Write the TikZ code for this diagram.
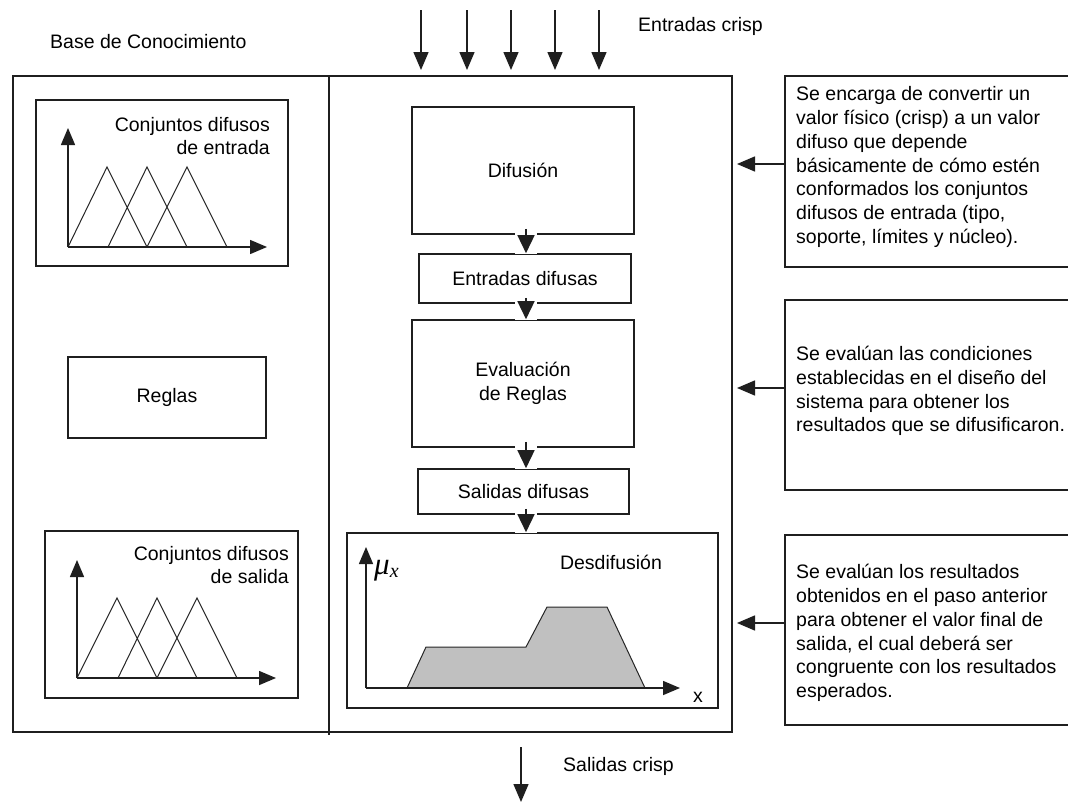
\documentclass[tikz,border=0pt]{standalone}
\usepackage{fontspec}
\setmainfont{Liberation Sans}
\newfontfamily\muserif{Liberation Serif}
\usetikzlibrary{arrows.meta,calc}
\newcommand\mytxt{\fontsize{19.5}{23.8}\selectfont}
\begin{document}
\begin{tikzpicture}[x=1pt,y=-1pt,
  ln/.style={line width=1.6pt, draw=black!88},
  box/.style={ln, rectangle, inner sep=0pt, font=\mytxt, align=center},
  arr/.style={line width=1.5pt, draw=black!88, -{Triangle[width=15pt,length=18pt]}},
  iarr/.style={line width=1.5pt, draw=black!88, -{Triangle[width=17pt,length=18pt]}},
  axis/.style={line width=1.5pt, draw=black!88, -{Triangle[width=14pt,length=17pt]}},
  tri/.style={line width=1pt, draw=black!85},
  lbl/.style={font=\mytxt, inner sep=0pt},
]
\path[use as bounding box, fill=white] (0,0) rectangle (1068,803);
\clip (0,0) rectangle (1068,803);

% outer frame and divider
\node[box, minimum width=719pt, minimum height=656pt] (outer) at (372.5,404) {};
\coordinate (divtop) at (329,76);
\coordinate (divbot) at (329,735);
\draw[ln] (divtop) -- (divbot);

\node[lbl, anchor=west] (kb) at (50,42) {Base de Conocimiento};
\node[lbl, anchor=west] (inl) at (638,26) {Entradas crisp};
\node[lbl, anchor=west] (outl) at (563,766) {Salidas crisp};

% input arrows
\foreach \i/\x in {1/421,2/467,3/511,4/555,5/599}{
  \coordinate (i\i s) at (\x,10);
  \coordinate (i\i e) at (\x,70);
  \draw[arr] (i\i s) -- (i\i e);
}
% output arrow
\coordinate (os) at (521,747);
\coordinate (oe) at (521,802);
\draw[arr] (os) -- (oe);

% left column
\node[box, minimum width=252pt, minimum height=166pt] (cin) at (162,183) {};
\node[lbl, anchor=east, align=right] (cinl) at (270,136) {Conjuntos difusos\\de entrada};
\coordinate (cino) at (68,247);
\draw[tri] (68,247) -- (107,167) -- (147,247) (108,247) -- (147,167) -- (187,247) (147,247) -- (187,167) -- (227,247);
\draw[axis] (cino) -- (68,128);
\draw[axis] (cino) -- (267,247);

\node[box, minimum width=198pt, minimum height=81pt] (reg) at (167,397.5) {Reglas};

\node[box, minimum width=253pt, minimum height=167pt] (cout) at (171.5,614.5) {};
\node[lbl, anchor=east, align=right] (coutl) at (289,565) {Conjuntos difusos\\de salida};
\coordinate (couto) at (77,678);
\draw[tri] (77,678) -- (117,598) -- (157,678) (118,678) -- (157,598) -- (197,678) (157,678) -- (197,598) -- (237,678);
\draw[axis] (couto) -- (77,560);
\draw[axis] (couto) -- (276,678);

% middle chain
\node[box, minimum width=222pt, minimum height=127pt] (dif) at (523,170.5) {Difusión};
\node[box, minimum width=212pt, minimum height=49pt] (ed) at (525,278.5) {Entradas difusas};
\node[box, minimum width=222pt, minimum height=127pt] (ev) at (523,383.5) {Evaluación\\de Reglas};
\node[box, minimum width=211pt, minimum height=45pt] (sd) at (523.5,491.5) {Salidas difusas};
\node[box, minimum width=371pt, minimum height=175pt] (des) at (532.5,620.5) {};
\node[lbl] (desl) at (611,562) {Desdifusión};

\coordinate (col) at (526,0);
\foreach \a/\b in {dif/ed, ed/ev, ev/sd, sd/des}{
  \fill[white] ($(\a.south -| col)+(-11,-2)$) rectangle ($(\b.north -| col)+(11,1)$);
  \draw[iarr] ($(\a.south -| col)+(0,-6)$) -- (\b.north -| col);
}

% defuzzification graph
\fill[fill={rgb,255:red,192;green,192;blue,192}] (407,688) -- (426,647) -- (526,647) -- (547,607) -- (607,607) -- (645,688) -- cycle;
\draw[tri] (407,688) -- (426,647) -- (526,647) -- (547,607) -- (607,607) -- (645,688);
\coordinate (deso) at (366,688);
\draw[axis] (deso) -- (366,547);
\draw[axis] (deso) -- (680,688);
\node[inner sep=0pt, anchor=base west, font=\muserif\itshape\fontsize{31}{33}\selectfont] (mu) at (374,574) {μ\raisebox{-3pt}{\fontsize{20}{22}\selectfont x}};
\node[lbl] (xl) at (698,697) {x};

% right description boxes
\node[box, minimum width=305pt, minimum height=191pt] (r1) at (937.5,171.5) {};
\node[lbl, anchor=west, align=left] (r1t) at (796,167) {Se encarga de convertir un\\valor físico (crisp) a un valor\\difuso que depende\\básicamente de cómo estén\\conformados los conjuntos\\difusos de entrada (tipo,\\soporte, límites y núcleo).};
\coordinate (t1) at (737,164);
\draw[arr] (r1.west |- t1) -- (t1);

\node[box, minimum width=305pt, minimum height=190pt] (r2) at (937.5,395) {};
\node[lbl, anchor=west, align=left] (r2t) at (796,391) {Se evalúan las condiciones\\establecidas en el diseño del\\sistema para obtener los\\resultados que se difusificaron.};
\coordinate (t2) at (737,388);
\draw[arr] (r2.west |- t2) -- (t2);

\node[box, minimum width=305pt, minimum height=190pt] (r3) at (937.5,630) {};
\node[lbl, anchor=west, align=left] (r3t) at (796,633) {Se evalúan los resultados\\obtenidos en el paso anterior\\para obtener el valor final de\\salida, el cual deberá ser\\congruente con los resultados\\esperados.};
\coordinate (t3) at (737,623);
\draw[arr] (r3.west |- t3) -- (t3);
\end{tikzpicture}
\end{document}
